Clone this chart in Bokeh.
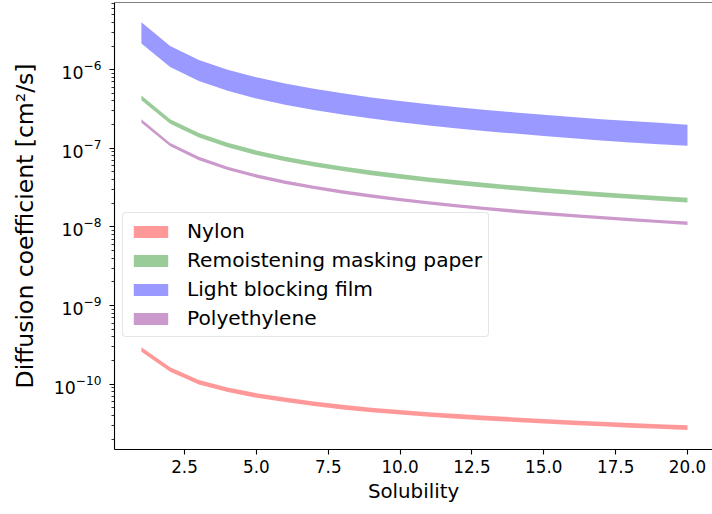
from bokeh.plotting import figure
from bokeh.models import FixedTicker, Range1d, Legend, LegendItem, Span, PrintfTickFormatter, LogTickFormatter
from bokeh.embed import file_html
from bokeh.resources import INLINE

# ---- data ----
solubility = [1, 2, 3, 4, 5, 6, 7, 8, 9, 10, 11, 12, 13, 14, 15, 16, 17, 18, 19, 20]

nylon_high = [2.96e-10, 1.65e-10, 1.13e-10, 9.12e-11, 7.71e-11, 6.79e-11, 6.05e-11, 5.47e-11, 5.03e-11, 4.71e-11,
              4.42e-11, 4.17e-11, 3.97e-11, 3.79e-11, 3.62e-11, 3.47e-11, 3.34e-11, 3.21e-11, 3.10e-11, 3.00e-11]
nylon_low = [2.59e-10, 1.44e-10, 9.91e-11, 7.96e-11, 6.74e-11, 5.93e-11, 5.28e-11, 4.78e-11, 4.39e-11, 4.11e-11,
             3.86e-11, 3.64e-11, 3.47e-11, 3.31e-11, 3.16e-11, 3.03e-11, 2.92e-11, 2.80e-11, 2.71e-11, 2.62e-11]

paper_high = [4.7e-7, 2.35e-7, 1.57e-7, 1.18e-7, 9.4e-8, 7.83e-8, 6.71e-8, 5.88e-8, 5.22e-8, 4.7e-8,
              4.27e-8, 3.92e-8, 3.62e-8, 3.36e-8, 3.13e-8, 2.94e-8, 2.76e-8, 2.61e-8, 2.47e-8, 2.35e-8]
paper_low = [4.1e-7, 2.05e-7, 1.37e-7, 1.03e-7, 8.2e-8, 6.83e-8, 5.86e-8, 5.13e-8, 4.56e-8, 4.1e-8,
             3.73e-8, 3.42e-8, 3.15e-8, 2.93e-8, 2.73e-8, 2.56e-8, 2.41e-8, 2.28e-8, 2.16e-8, 2.05e-8]

film_high = [4.0e-6, 2.0e-6, 1.33e-6, 1.0e-6, 8.0e-7, 6.67e-7, 5.71e-7, 5.0e-7, 4.44e-7, 4.0e-7,
             3.64e-7, 3.33e-7, 3.08e-7, 2.86e-7, 2.67e-7, 2.5e-7, 2.35e-7, 2.22e-7, 2.11e-7, 2.0e-7]
film_low = [2.15e-6, 1.08e-6, 7.17e-7, 5.38e-7, 4.3e-7, 3.58e-7, 3.07e-7, 2.69e-7, 2.39e-7, 2.15e-7,
            1.95e-7, 1.79e-7, 1.65e-7, 1.54e-7, 1.43e-7, 1.34e-7, 1.26e-7, 1.19e-7, 1.13e-7, 1.08e-7]

pe_high = [2.34e-7, 1.17e-7, 7.8e-8, 5.85e-8, 4.68e-8, 3.9e-8, 3.34e-8, 2.93e-8, 2.6e-8, 2.34e-8,
           2.13e-8, 1.95e-8, 1.8e-8, 1.67e-8, 1.56e-8, 1.46e-8, 1.38e-8, 1.3e-8, 1.23e-8, 1.17e-8]
pe_low = [2.12e-7, 1.06e-7, 7.07e-8, 5.3e-8, 4.24e-8, 3.53e-8, 3.03e-8, 2.65e-8, 2.36e-8, 2.12e-8,
          1.93e-8, 1.77e-8, 1.63e-8, 1.51e-8, 1.41e-8, 1.33e-8, 1.25e-8, 1.18e-8, 1.12e-8, 1.06e-8]

series_labels = ["Nylon", "Remoistening masking paper", "Light blocking film", "Polyethylene"]
series_colors = ["red", "green", "blue", "purple"]

x_ticks = [2.5, 5.0, 7.5, 10.0, 12.5, 15.0, 17.5, 20.0]
y_ticks = [1e-10, 1e-9, 1e-8, 1e-7, 1e-6]

FONT = "DejaVu Sans"
Y_TOP = 7.15e-6

p = figure(width=712, height=514, y_axis_type="log", output_backend="svg", toolbar_location=None,
           x_range=Range1d(0.064, 20.87), y_range=Range1d(1.48e-11, Y_TOP),
           min_border_left=114, min_border_right=0, min_border_top=2, min_border_bottom=65)
p.outline_line_color = None
p.grid.visible = False
p.background_fill_color = "white"
p.border_fill_color = "white"

bands = [(nylon_low, nylon_high), (paper_low, paper_high), (film_low, film_high), (pe_low, pe_high)]
items = []
for (lo, hi), lab, col in zip(bands, series_labels, series_colors):
    r = p.varea(x=solubility, y1=lo, y2=hi, fill_color=col, fill_alpha=0.4)
    items.append(LegendItem(label=lab, renderers=[r]))

legend = Legend(items=items, location=(8, 112))
legend.label_text_font = FONT
legend.label_text_font_size = "20.2px"
legend.label_text_color = "black"
legend.glyph_width = 43
legend.glyph_height = 15
legend.label_standoff = 15
legend.label_height = 23
legend.padding = 6
legend.spacing = 5
legend.margin = 0
legend.border_line_color = "#cccccc"
legend.border_line_width = 1
legend.background_fill_alpha = 0.8
try:
    legend.border_radius = 4
except AttributeError:
    pass
p.add_layout(legend)

# top spine
p.add_layout(Span(location=Y_TOP, dimension="width", line_color="black", line_width=1.1))

xa = p.xaxis[0]
xa.ticker = FixedTicker(ticks=x_ticks, minor_ticks=[])
xa.formatter = PrintfTickFormatter(format="%.1f")
xa.axis_label = "Solubility"

ya = p.yaxis[0]
minor = [k * 10.0 ** e for e in range(-12, -5) for k in range(2, 10)]
ya.ticker = FixedTicker(ticks=y_ticks, minor_ticks=minor)
ya.formatter = LogTickFormatter()
ya.axis_label = "Diffusion coefficient [cm\u00b2/s]"

for ax in (xa, ya):
    ax.axis_line_color = "black"
    ax.axis_line_width = 1.1
    ax.major_tick_line_color = "black"
    ax.major_tick_line_width = 1.1
    ax.minor_tick_line_color = "black"
    ax.minor_tick_line_width = 0.8
    ax.major_tick_in = 0
    ax.major_tick_out = 5
    ax.minor_tick_in = 0
    ax.minor_tick_out = 3
    ax.major_label_text_font = FONT
    ax.major_label_text_font_size = "16.8px"
    ax.major_label_text_color = "black"
    ax.axis_label_text_font = FONT
    ax.axis_label_text_font_style = "normal"
    ax.axis_label_text_color = "black"

xa.axis_label_text_font_size = "19.8px"
ya.axis_label_text_font_size = "23.5px"
ya.major_label_text_font_size = "17.4px"
xa.major_label_standoff = 5
xa.axis_label_standoff = 4
ya.major_label_standoff = 8
ya.axis_label_standoff = 12

open("out.html", "w").write(file_html(p, INLINE))
